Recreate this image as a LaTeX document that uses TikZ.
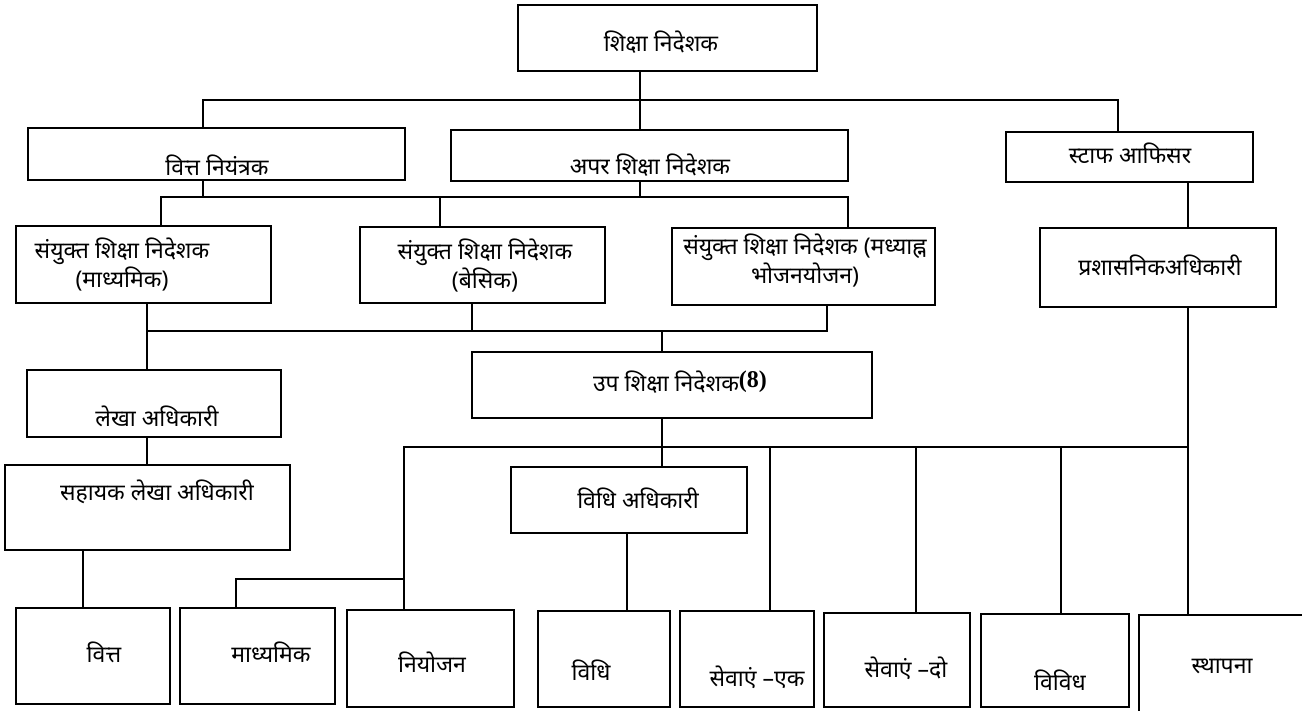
\documentclass[tikz,border=0pt]{standalone}
\usepackage{fontspec}
\newfontfamily\hin[Script=Devanagari]{Noto Sans}
\newfontfamily\tms{Liberation Serif}
\tikzset{
    post/.style={draw, line width=1.5pt, inner sep=0pt},
    lbl/.style={font=\fontsize{23}{29}\selectfont\hin, inner sep=0pt, align=center},
    link/.style={line width=1.3pt},
}

\begin{document}
\begin{tikzpicture}[x=1pt, y=-1pt]
        \useasboundingbox (0,0) rectangle (1302,710);
        \clip (0,0) rectangle (1302,710);

        % Boxes
        \node[post, minimum width=299pt, minimum height=66pt] at (667.5, 38)  (dir)   {};
        \node[post, minimum width=377pt, minimum height=52pt] at (216.5, 154)  (fin)   {};
        \node[post, minimum width=397pt, minimum height=51pt] at (649.5, 155.5)  (add)   {};
        \node[post, minimum width=247pt, minimum height=50pt] at (1129.5, 157)  (staff) {};
        \node[post, minimum width=255pt, minimum height=77pt] at (143.5, 264.5)  (jdsec) {};
        \node[post, minimum width=245pt, minimum height=76pt] at (482.5, 265)  (jdbas) {};
        \node[post, minimum width=263pt, minimum height=77pt] at (803.5, 266.5)  (jdmdm) {};
        \node[post, minimum width=236pt, minimum height=79pt] at (1158, 267.5)  (admin) {};
        \node[post, minimum width=400pt, minimum height=66pt] at (672, 385)  (dd)    {};
        \node[post, minimum width=254pt, minimum height=67pt] at (154, 403.5)  (acc)   {};
        \node[post, minimum width=285pt, minimum height=85pt] at (147.5, 507.5)  (aacc)  {};
        \node[post, minimum width=236pt, minimum height=66pt] at (629, 500)  (law)   {};

        \node[post, minimum width=154pt, minimum height=96pt] at (93, 656)  (fina)  {};
        \node[post, minimum width=155pt, minimum height=96pt] at (257.5, 656)  (sec)   {};
        \node[post, minimum width=167pt, minimum height=97pt] at (430.5, 658.5)  (plan)  {};
        \node[post, minimum width=132pt, minimum height=96pt] at (604, 659)  (legal) {};
        \node[post, minimum width=134pt, minimum height=96pt] at (747, 659)  (serva) {};
        \node[post, minimum width=146pt, minimum height=94pt] at (897, 660)  (servb) {};
        \node[post, minimum width=148pt, minimum height=93pt] at (1055, 660.5)  (misc)  {};
        \node[post, minimum width=200pt, minimum height=120pt] at (1239, 675)  (estab) {};

        % Labels
        \node[lbl] at (661, 42)   (dir-l)   {शिक्षा निदेशक};
        \node[lbl] at (217, 165)  (fin-l)   {वित्त नियंत्रक};
        \node[lbl] at (650, 165)  (add-l)   {अपर शिक्षा निदेशक};
        \node[lbl] at (1130, 153) (staff-l) {स्टाफ आफिसर};
        \node[lbl] at (122, 265)  (jdsec-l) {संयुक्त शिक्षा निदेशक\\(माध्यमिक)};
        \node[lbl] at (485, 266)  (jdbas-l) {संयुक्त शिक्षा निदेशक\\(बेसिक)};
        \node[lbl] at (805, 261)  (jdmdm-l) {संयुक्त शिक्षा निदेशक (मध्याह्न\\भोजनयोजन)};
        \node[lbl] at (1160, 265) (admin-l) {प्रशासनिकअधिकारी};
        \node[lbl] at (680, 382)  (dd-l)    {उप शिक्षा निदेशक{\tms\bfseries\fontsize{24}{28}\selectfont\raisebox{4pt}{(8)}}};
        \node[lbl] at (157, 416)  (acc-l)   {लेखा अधिकारी};
        \node[lbl] at (157, 492)  (aacc-l)  {सहायक लेखा अधिकारी};
        \node[lbl] at (638, 498)  (law-l)   {विधि अधिकारी};
        \node[lbl] at (104, 652)  (fina-l)  {वित्त};
        \node[lbl] at (271, 652)  (sec-l)   {माध्यमिक};
        \node[lbl] at (432, 662)  (plan-l)  {नियोजन};
        \node[lbl] at (591, 670)  (legal-l) {विधि};
        \node[lbl] at (757, 677)  (serva-l) {सेवाएं –एक};
        \node[lbl] at (906, 668)  (servb-l) {सेवाएं –दो};
        \node[lbl] at (1060, 680) (misc-l)  {विविध};
        \node[lbl] at (1222, 666) (estab-l) {स्थापना};

        % Junctions
        \coordinate (t0) at (640, 100);
        \coordinate (t1) at (203, 100);
        \coordinate (t2) at (1118, 100);
        \coordinate (u1) at (161, 197);
        \coordinate (u2) at (848, 197);
        \coordinate (u3) at (440, 197);
        \coordinate (v1) at (147, 331);
        \coordinate (v2) at (472, 331);
        \coordinate (v3) at (827, 331);
        \coordinate (v4) at (662, 331);
        \coordinate (w1) at (83, 580);
        \coordinate (x0) at (404, 447);
        \coordinate (x2) at (770, 447);
        \coordinate (x3) at (916, 447);
        \coordinate (x4) at (1061, 447);
        \coordinate (x5) at (1188, 447);
        \coordinate (y1) at (236, 579);
        \coordinate (z1) at (627, 570);

        % Links
        \draw[link]  (dir.south -| t0) -- (add.north -| t0);
        \draw[link]  (fin.north -| t1) |- (t2) -- (staff.north -| t2);
        \draw[link]  (staff.south -| x5) -- (admin.north -| x5);

        \draw[link]  (fin.south -| t1) -- (t1 |- u1);
        \draw[link]  (add.south -| t0) -- (t0 |- u1);
        \draw[link]  (jdsec.north -| u1) |- (u2) -- (jdmdm.north -| u2);
        \draw[link]  (u3) -- (jdbas.north -| u3);

        \draw[link]  (jdsec.south -| v1) -- (acc.north -| v1);
        \draw[link]  (jdbas.south -| v2) -- (v2);
        \draw[link]  (jdmdm.south -| v3) |- (v1);
        \draw[link]  (v4) -- (dd.north -| v4);

        \draw[link]  (acc.south -| v1) -- (aacc.north -| v1);
        \draw[link]  (aacc.south -| w1) -- (fina.north -| w1);

        \draw[link]  (dd.south -| v4) -- (law.north -| v4);
        \draw[link]  (plan.north -| x0) |- (x5);
        \draw[link]  (admin.south -| x5) -- (estab.north -| x5);
        \draw[link]  (sec.north -| y1) |- (x0 |- y1);
        \draw[link]  (law.south -| z1) -- (legal.north -| z1);
        \draw[link]  (x2) -- (serva.north -| x2);
        \draw[link]  (x3) -- (servb.north -| x3);
        \draw[link]  (x4) -- (misc.north -| x4);
\end{tikzpicture}
\end{document}
